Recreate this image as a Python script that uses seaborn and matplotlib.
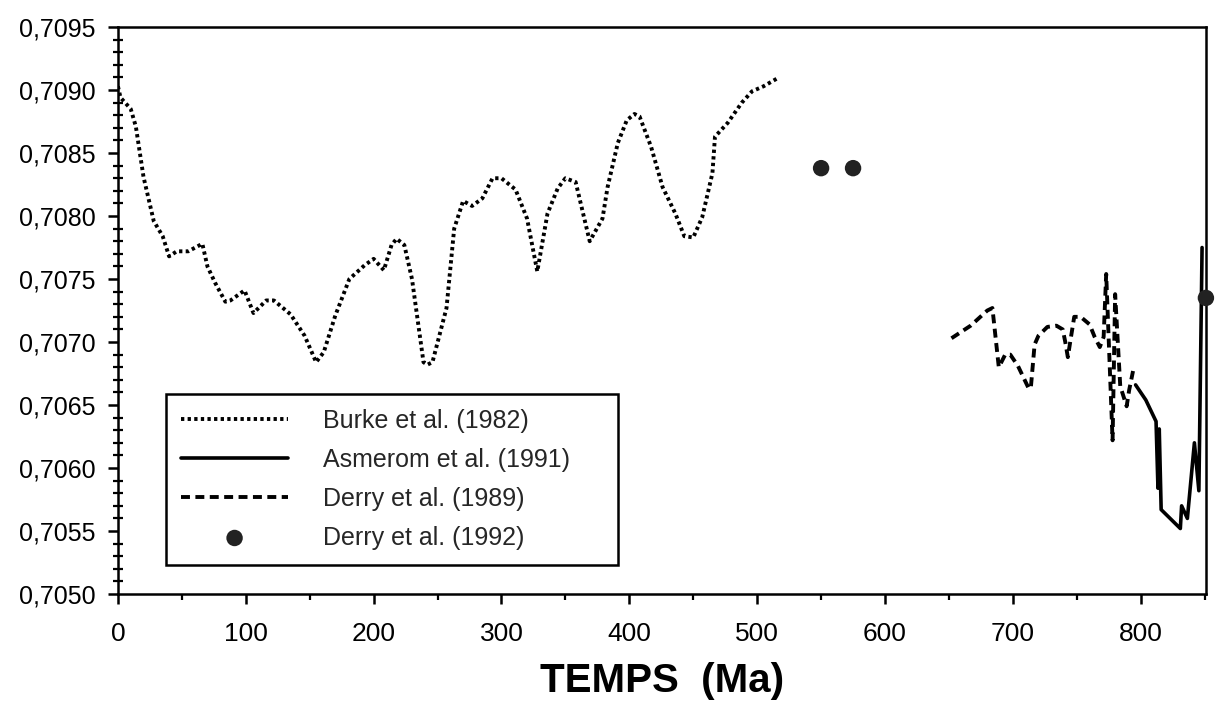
import matplotlib
matplotlib.use('Agg')
import matplotlib.pyplot as plt
import seaborn as sns
import numpy as np
from matplotlib.ticker import MultipleLocator, FuncFormatter

# Burke et al. (1982)
burke_age = [0, 2, 10, 14, 20, 28, 35, 40, 46, 55, 66, 70, 76, 84, 88, 99, 106, 116, 122, 135,
             146, 155, 161, 170, 181, 193, 200, 208, 214, 218, 224, 230, 239, 242, 246, 257, 263, 270, 277, 285,
             293, 300, 311, 320, 328, 336, 344, 350, 358, 369, 379, 383, 391, 398, 404, 408, 417, 426, 436, 443,
             450, 457, 465, 467, 477, 488, 496, 505, 517]
burke_sr = [0.70903, 0.70894, 0.70885, 0.70871, 0.70831, 0.70796, 0.70784, 0.70768, 0.70772, 0.70772,
            0.70778, 0.70760, 0.70747, 0.70732, 0.70733, 0.70741, 0.70723, 0.70733, 0.70733, 0.70722,
            0.70705, 0.70684, 0.70692, 0.70721, 0.70750, 0.70761, 0.70766, 0.70757, 0.70777, 0.70782,
            0.70777, 0.70750, 0.70684, 0.70682, 0.70684, 0.70727, 0.70790, 0.70812, 0.70808, 0.70814,
            0.70830, 0.70830, 0.70821, 0.70798, 0.70756, 0.70802, 0.70822, 0.70830, 0.70827, 0.70780,
            0.70798, 0.70823, 0.70858, 0.70876, 0.70881, 0.70879, 0.70855, 0.70823, 0.70802, 0.70784,
            0.70783, 0.70799, 0.70834, 0.70863, 0.70874, 0.70890, 0.70899, 0.70903, 0.70910]

# Asmerom et al. (1991)
asmerom_age = [796, 804, 812, 813.5, 814.5, 816, 831, 832, 836.5, 842, 845.5, 848]
asmerom_sr = [0.70666, 0.70654, 0.70637, 0.70584, 0.70631, 0.70567, 0.70552, 0.70570, 0.70560,
              0.70620, 0.70582, 0.70775]

# Derry et al. (1989)
derry89_age = [652, 667, 680, 684, 689, 694, 698, 704, 712, 714, 717, 720, 727, 734, 739, 741, 743, 745,
               748, 753, 760, 764, 768, 771, 773, 778, 780, 784, 789, 791, 794]
derry89_sr = [0.70703, 0.70713, 0.70725, 0.70727, 0.70680, 0.70690, 0.70690, 0.70681, 0.70664, 0.70663,
              0.70698, 0.70705, 0.70712, 0.70713, 0.70710, 0.70700, 0.70688, 0.70701, 0.70720, 0.70720,
              0.70714, 0.70704, 0.70696, 0.70704, 0.70754, 0.70622, 0.70738, 0.70665, 0.70649, 0.70662,
              0.70677]

# Derry et al. (1992)
derry92_age = [550, 575, 851]
derry92_sr = [0.70838, 0.70838, 0.70735]

y_ticks = [0.7050, 0.7055, 0.7060, 0.7065, 0.7070, 0.7075, 0.7080, 0.7085, 0.7090, 0.7095]
x_ticks = [0, 100, 200, 300, 400, 500, 600, 700, 800]

sns.set_theme(style='ticks')
plt.rcParams['font.family'] = ['Liberation Sans', 'DejaVu Sans']

fig = plt.figure(figsize=(12.16, 7.06), dpi=100)
ax = fig.add_axes([0.097, 0.1586, 0.8947, 0.8031])

sns.lineplot(x=burke_age, y=burke_sr, ax=ax, color='black', linewidth=2.8,
             linestyle=(0, (0.85, 0.85)), sort=False, estimator=None, label='Burke et al. (1982)')
sns.lineplot(x=asmerom_age, y=asmerom_sr, ax=ax, color='black', linewidth=2.6,
             sort=False, estimator=None, label='Asmerom et al. (1991)')
sns.lineplot(x=derry89_age, y=derry89_sr, ax=ax, color='black', linewidth=2.8,
             linestyle=(0, (2.3, 1.4)), sort=False, estimator=None, label='Derry et al. (1989)')
sns.scatterplot(x=derry92_age, y=derry92_sr, ax=ax, color='#222222', s=140, edgecolor='none',
                clip_on=False, zorder=5, label='Derry et al. (1992)')

ax.set_xlim(0, 851)
ax.set_ylim(0.7050, 0.7095)
ax.set_xticks(x_ticks)
ax.xaxis.set_minor_locator(MultipleLocator(50))
ax.set_yticks(y_ticks)
ax.set_yticks(np.arange(0.7050, 0.70955, 0.0001), minor=True)
ax.yaxis.set_major_formatter(FuncFormatter(lambda v, p: f'{v:.4f}'.replace('.', ',')))

for s in ax.spines.values():
    s.set_color('black')
    s.set_linewidth(1.8)

ax.tick_params(axis='both', which='major', direction='out', length=7, width=1.8,
               labelsize=18, pad=9, color='black', labelcolor='black')
ax.tick_params(axis='x', which='major', labelsize=19, pad=13)
ax.tick_params(axis='x', which='minor', direction='out', length=4, width=1.6, color='black')
ax.tick_params(axis='y', which='minor', direction='inout', length=7, width=1.6, color='black')

ax.set_xlabel('TEMPS  (Ma)', fontsize=29, fontweight='bold', labelpad=12, color='black')
ax.set_ylabel('')

handles, labels = ax.get_legend_handles_labels()
leg = ax.legend(handles, labels, loc='lower left', bbox_to_anchor=(0.044, 0.052, 0.4156, 0.3),
                mode='expand', borderaxespad=0, frameon=True, fancybox=False, shadow=False,
                edgecolor='black', framealpha=1, fontsize=18, handlelength=4.3,
                handletextpad=1.4, labelspacing=0.6, borderpad=0.6)
leg.get_frame().set_linewidth(1.8)

fig.savefig('out.png', dpi=100)
